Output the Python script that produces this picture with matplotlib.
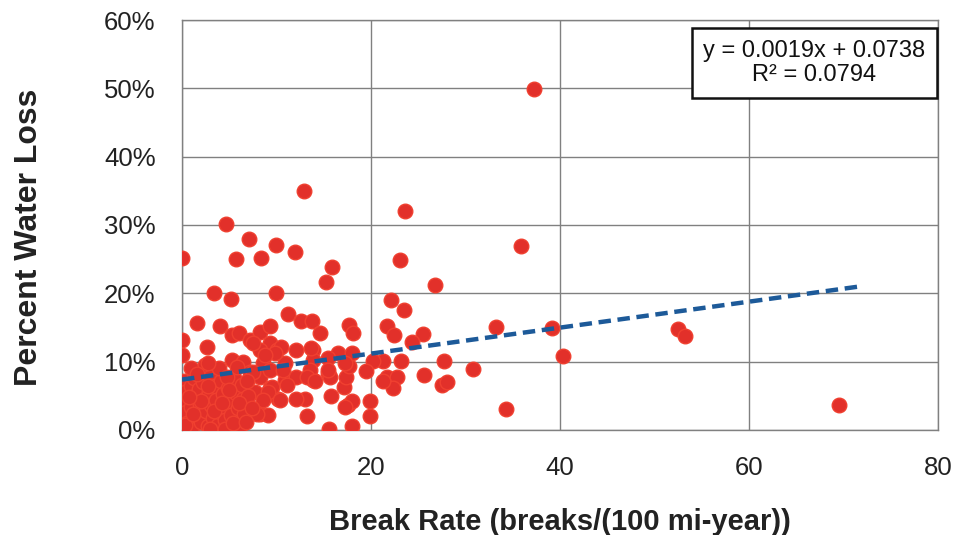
import matplotlib
matplotlib.use("Agg")
import matplotlib.pyplot as plt
from matplotlib.ticker import FuncFormatter

plt.rcParams['font.family'] = ['Liberation Sans', 'DejaVu Sans']

# break rate (breaks / 100 mi-year)
break_rate = [
    0.0, 4.7, 7.1, 5.7, 8.4, 9.9, 12.0, 12.9, 15.9, 15.2,
    3.4, 5.2, 9.9, 11.2, 12.6, 13.8, 1.6, 4.0, 17.7, 18.1,
    23.6, 35.9, 23.1, 26.8, 22.1, 23.5, 21.7, 22.4, 33.2, 14.6,
    25.5, 24.3, 27.7, 30.8, 25.6, 27.5, 28.0, 34.3, 23.2, 21.3,
    20.2, 19.5, 21.7, 22.8, 22.3, 21.3, 19.9, 19.9, 18.0, 15.6,
    13.2, 17.6, 18.0, 15.8, 17.1, 17.4, 17.7, 13.9, 13.0, 15.5,
    13.9, 13.9, 16.5, 18.0, 37.2, 39.2, 40.3, 52.5, 53.2, 69.5,
    0.0, 0.0, 2.6, 5.3, 6.0, 7.2, 8.3, 9.3, 9.3, 10.0,
    8.3, 8.6, 12.1, 5.3, 6.5, 2.6, 7.2, 8.3, 10.9, 10.9,
    12.1, 9.3, 11.1, 10.2, 12.1, 8.3, 9.1, 6.1, 5.3, 17.2,
    17.2, 15.7, 7.5, 10.5, 9.8, 8.8, 13.7, 15.5, 15.5, 7.5,
    9.3, 10.7, 13.5, 13.2, 14.1, 9.5, 7.7, 9.1, 8.6, 10.4,
    7.9, 2.4,
    0.2, 0.3, 0.2, 0.4, 0.5, 0.9, 1.0, 1.1, 1.3, 1.4,
    1.6, 1.8, 1.9, 2.0, 2.2, 2.4, 2.5, 2.7, 2.9, 3.0,
    3.1, 3.3, 3.5, 3.6, 3.8, 4.0, 4.1, 4.3, 4.5, 4.6,
    4.9, 5.0, 5.2, 5.5, 5.7, 5.9, 6.1, 6.3, 6.4, 6.6,
    6.9, 7.0, 3.9, 5.8, 1.0, 0.3, 2.8, 4.6,
    1.2, 2.0, 2.7, 3.4, 4.2, 4.8, 5.4, 6.0, 6.8, 3.0,
    1.6, 0.7, 7.4, 5.0,
]

# percent water loss
water_loss = [
    25.1, 30.2, 28.0, 25.0, 25.1, 27.0, 26.0, 35.0, 23.9, 21.7,
    20.0, 19.2, 20.0, 17.0, 16.0, 16.0, 15.6, 15.2, 15.4, 14.2,
    32.0, 26.9, 24.9, 21.2, 19.0, 17.6, 15.2, 13.9, 15.1, 14.2,
    14.1, 12.9, 10.1, 8.9, 8.0, 6.6, 7.0, 3.0, 10.1, 10.1,
    10.1, 8.6, 7.8, 7.8, 6.1, 7.1, 4.2, 2.1, 0.6, 0.2,
    2.1, 3.6, 4.2, 5.0, 6.3, 7.8, 9.3, 7.3, 4.6, 8.3,
    11.7, 10.3, 11.2, 11.2, 49.9, 14.9, 10.9, 14.8, 13.8, 3.6,
    13.2, 11.0, 12.2, 13.9, 14.2, 13.2, 14.4, 15.2, 12.7, 11.7,
    11.7, 9.8, 11.7, 10.3, 10.0, 9.3, 8.5, 7.8, 9.8, 7.3,
    7.8, 6.1, 6.6, 4.6, 4.6, 2.4, 2.2, 1.2, 0.2, 9.8,
    3.4, 7.8, 12.7, 12.2, 11.2, 11.0, 12.0, 10.5, 8.8, 8.5,
    8.8, 8.8, 8.8, 7.8, 7.1, 6.3, 5.6, 5.6, 4.4, 4.4,
    2.4, 9.5,
    7.2, 5.6, 4.2, 2.6, 1.0, 6.4, 3.4, 0.4, 7.6, 5.0,
    2.0, 6.0, 3.8, 1.2, 7.0, 4.6, 2.8, 0.6, 5.6, 7.8,
    3.6, 1.8, 6.4, 4.4, 0.8, 2.6, 7.2, 5.2, 3.4, 1.4,
    6.2, 4.2, 2.2, 7.6, 5.4, 3.2, 0.6, 6.6, 4.6, 2.4,
    7.2, 5.0, 9.0, 9.2, 9.0, 0.8, 9.8, 0.2,
    2.4, 4.2, 6.4, 2.8, 4.0, 7.8, 1.0, 4.0, 1.2, 0.2,
    8.2, 4.8, 3.2, 5.8,
]

# linear trendline reported on the chart
slope = 0.0019
intercept = 0.0738
r_squared = 0.0794
trend_x = [0, 71.5]

fig = plt.figure(figsize=(9.55, 5.35), dpi=100)
ax = fig.add_axes([0.1906, 0.1963, 0.7916, 0.7663])

ax.scatter(break_rate, water_loss, s=110, color="#e2302a",
           edgecolors="#f04030", linewidths=1.0, zorder=3)

trend_y = [(slope * x + intercept) * 100 for x in trend_x]
ax.plot(trend_x, trend_y, color="#1d5a99", linewidth=3.2,
        linestyle=(0, (2.8, 1.5)), zorder=4)

ax.set_xlim(0, 80)
ax.set_ylim(0, 60)
ax.set_xticks([0, 20, 40, 60, 80])
ax.set_yticks([0, 10, 20, 30, 40, 50, 60])
ax.yaxis.set_major_formatter(FuncFormatter(lambda v, p: "%d%%" % v))
ax.tick_params(length=0, labelsize=18.5, colors="#222222")
ax.tick_params(axis="x", pad=19)
ax.tick_params(axis="y", pad=19)
ax.grid(True, color="#808080", linewidth=1.0)
ax.set_axisbelow(True)
for s in ax.spines.values():
    s.set_color("#808080")
    s.set_linewidth(1.0)

ax.set_xlabel("Break Rate (breaks/(100 mi-year))", fontsize=21,
              fontweight="bold", color="#222222", labelpad=20)
ax.set_ylabel("Percent Water Loss", fontsize=23, fontweight="bold",
              color="#222222")
ax.yaxis.set_label_coords(-0.183, 0.47)

eq_text = "y = %.4fx + %.4f\nR² = %.4f" % (slope, intercept, r_squared)
ax.text(0.8367, 0.895, eq_text, transform=ax.transAxes, fontsize=17,
        ha="center", va="center", linespacing=1.15, color="#111111",
        bbox=dict(boxstyle="square,pad=0.5", facecolor="white",
                  edgecolor="#111111", linewidth=1.8), zorder=5)

fig.savefig("out.png", dpi=100, facecolor="white")
